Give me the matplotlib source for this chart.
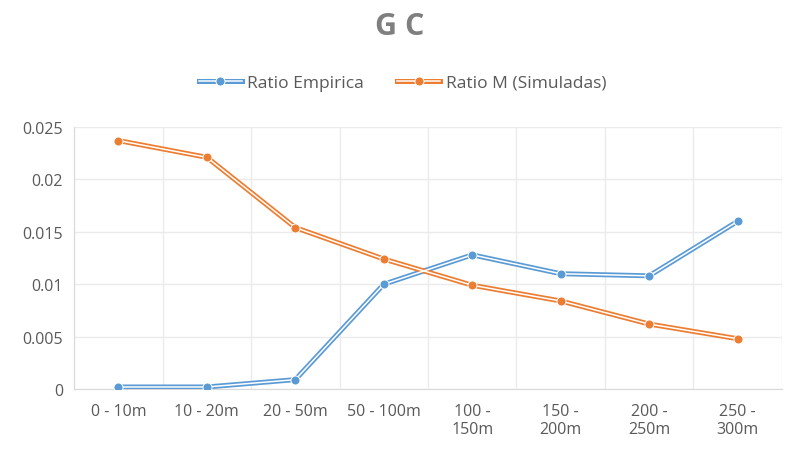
import numpy as np
import matplotlib.pyplot as plt

plt.rcParams['font.family'] = ['Open Sans', 'DejaVu Sans']

categories = ["0 - 10m", "10 - 20m", "20 - 50m", "50 - 100m", "100 -\n150m", "150 -\n200m", "200 -\n250m", "250 -\n300m"]
ratio_empirica = [0.0002, 0.0002, 0.0009, 0.0100, 0.0128, 0.0110, 0.0108, 0.0160]
ratio_simuladas = [0.0237, 0.0221, 0.0154, 0.0124, 0.0099, 0.0084, 0.0062, 0.0048]

blue = "#5B9BD5"
orange = "#ED7D31"
grey = "#595959"

fig = plt.figure(figsize=(7.89, 4.52), dpi=100)
ax = fig.add_axes([0.094, 0.137, 0.897, 0.58])

x = np.arange(len(categories))

handles = []
for vals, col, lab in [(ratio_empirica, blue, "Ratio Empirica"), (ratio_simuladas, orange, "Ratio M (Simuladas)")]:
    l1, = ax.plot(x, vals, color=col, lw=3.6, zorder=3)
    l2, = ax.plot(x, vals, color="white", lw=1.1, zorder=4)
    m, = ax.plot(x, vals, ls="none", marker="o", ms=6.5, mfc=col, mec="white", mew=0.7, zorder=5)
    handles.append(((l1, l2, m), lab))

ax.set_xlim(-0.5, len(categories) - 0.5)
ax.set_ylim(0, 0.025)
ax.set_yticks([0, 0.005, 0.01, 0.015, 0.02, 0.025])
ax.set_yticklabels(["0", "0.005", "0.01", "0.015", "0.02", "0.025"])
ax.set_xticks(x)
ax.set_xticklabels(categories)
ax.set_xticks(np.arange(-0.5, len(categories)), minor=True)

ax.grid(axis="y", color="#EBEBEB", lw=1)
ax.grid(axis="x", which="minor", color="#EBEBEB", lw=1)
ax.set_axisbelow(True)
ax.tick_params(which="both", length=0, colors=grey, labelsize=11.5)
ax.tick_params(axis="y", pad=8)
ax.tick_params(axis="x", pad=10)
for s in ["top", "right"]:
    ax.spines[s].set_visible(False)
ax.spines["left"].set_color("#D9D9D9")
ax.spines["bottom"].set_color("#D9D9D9")

fig.text(0.507, 0.94, "G C", ha="center", va="center", fontsize=22, fontweight="bold", color="#7F7F7F")

fig.legend([h for h, _ in handles], [l for _, l in handles], loc="center", bbox_to_anchor=(0.51, 0.815),
           ncol=2, frameon=False, fontsize=12.5, labelcolor=grey, handlelength=2.5, columnspacing=1.9, handletextpad=0.3)

plt.savefig("out.png", dpi=100)
